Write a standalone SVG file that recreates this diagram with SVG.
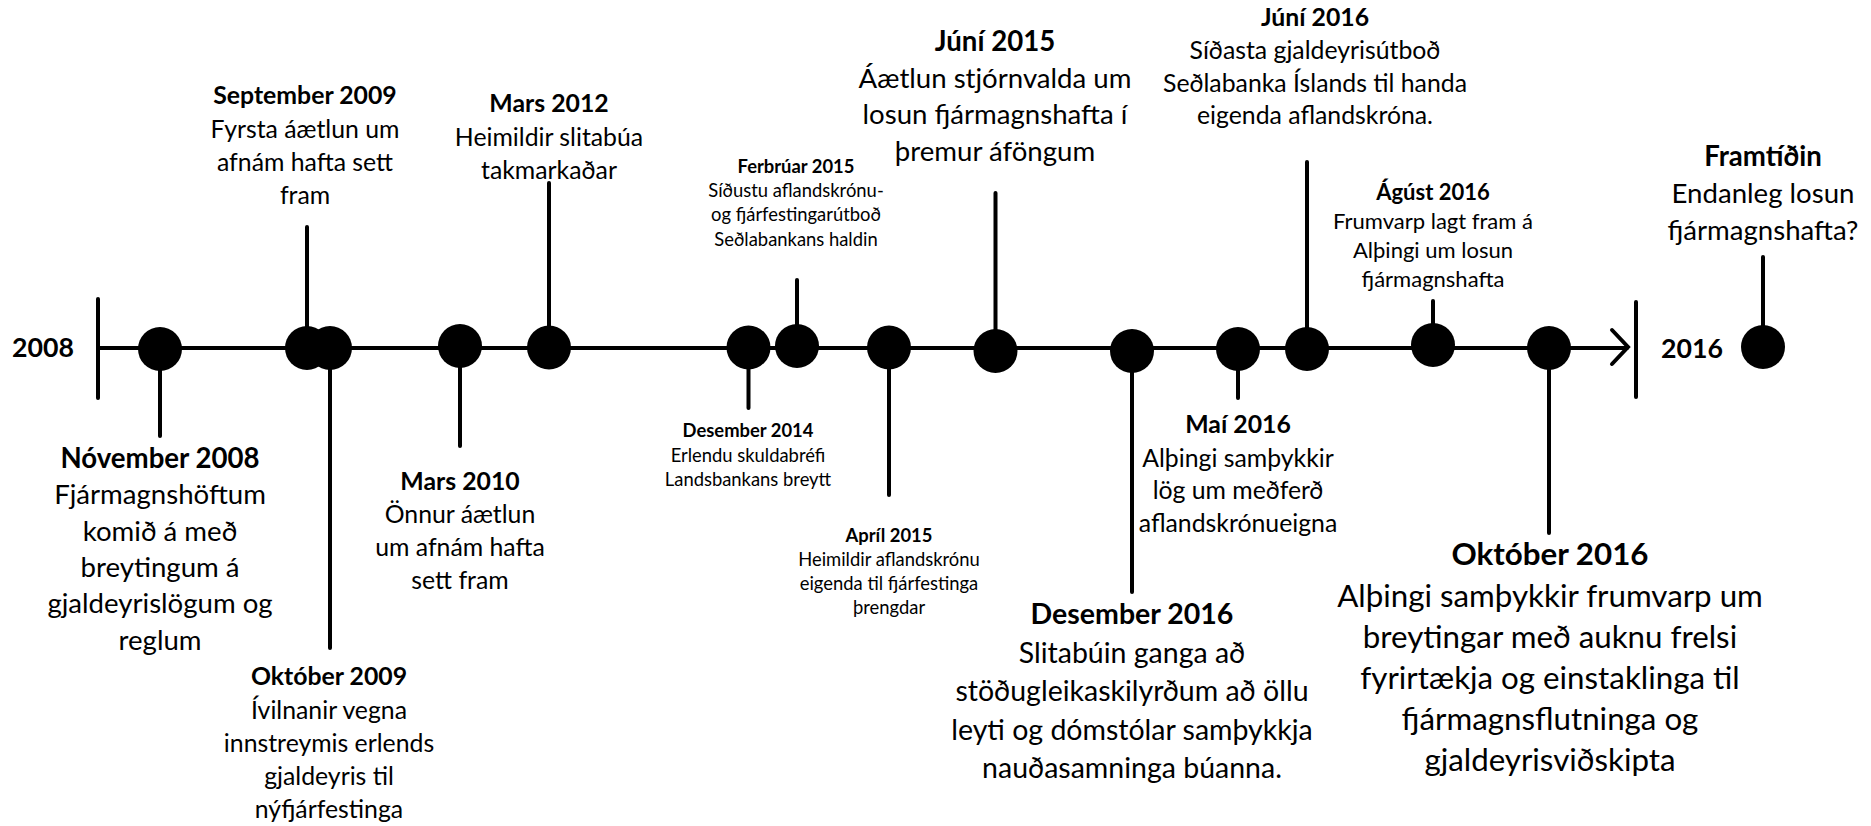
<svg xmlns="http://www.w3.org/2000/svg" width="1871" height="826" viewBox="0 0 1871 826">
<style>
text{font-family:Lato,"Liberation Sans",sans-serif;fill:#000;text-anchor:middle}
.t{font-weight:bold}
.s30{font-size:27.6px}
.s27{font-size:24.8px}
.s20{font-size:18.4px}
.s24{font-size:22px}
.s34{font-size:31.3px}
.s31{font-size:28.5px}
.yr{font-size:26.7px;font-weight:bold;text-anchor:start}
.ln{stroke:#000;stroke-width:4;fill:none;stroke-linecap:round}
.dot{fill:#000}
</style>
<rect width="1871" height="826" fill="#fff"/>
<g id="axis">
<line class="ln" x1="98" y1="348" x2="1627" y2="348"/>
<polyline class="ln" points="1612,330 1628,347 1612,364" stroke-linejoin="miter"/>
<line class="ln" x1="98" y1="299" x2="98" y2="398"/>
<line class="ln" x1="1636" y1="302" x2="1636" y2="397"/>
<text class="yr" x="12" y="357">2008</text>
<text class="yr" x="1661" y="358">2016</text>
</g>
<g id="connectors">
<line class="ln" x1="160" y1="348" x2="160" y2="436"/>
<line class="ln" x1="307" y1="227" x2="307" y2="348"/>
<line class="ln" x1="330" y1="348" x2="330" y2="648"/>
<line class="ln" x1="460" y1="348" x2="460" y2="446"/>
<line class="ln" x1="549" y1="183" x2="549" y2="348"/>
<line class="ln" x1="748.5" y1="348" x2="748.5" y2="408"/>
<line class="ln" x1="797" y1="280" x2="797" y2="348"/>
<line class="ln" x1="889" y1="348" x2="889" y2="495"/>
<line class="ln" x1="995.5" y1="193" x2="995.5" y2="350"/>
<line class="ln" x1="1132" y1="350" x2="1132" y2="592"/>
<line class="ln" x1="1238" y1="348" x2="1238" y2="398"/>
<line class="ln" x1="1307" y1="162" x2="1307" y2="348"/>
<line class="ln" x1="1433" y1="301" x2="1433" y2="345"/>
<line class="ln" x1="1549" y1="348" x2="1549" y2="533"/>
<line class="ln" x1="1763" y1="257" x2="1763" y2="347"/>
</g>
<g id="nov2008">
<circle class="dot" cx="160" cy="349" r="22"/>
<text class="t s30" x="160" y="468">Nóvember 2008</text>
<text class="s30" x="160"><tspan x="160" y="504">Fjármagnshöftum</tspan><tspan x="160" y="541">komið á með</tspan><tspan x="160" y="577">breytingum á</tspan><tspan x="160" y="613">gjaldeyrislögum og</tspan><tspan x="160" y="650">reglum</tspan></text>
</g>
<g id="sep2009">
<circle class="dot" cx="307" cy="348" r="22"/>
<text class="t s27" x="305" y="104">September 2009</text>
<text class="s27"><tspan x="305" y="137.5">Fyrsta áætlun um</tspan><tspan x="305" y="171">afnám hafta sett</tspan><tspan x="305" y="204">fram</tspan></text>
</g>
<g id="okt2009">
<circle class="dot" cx="330" cy="348" r="22"/>
<text class="t s27" x="329" y="685">Október 2009</text>
<text class="s27"><tspan x="329" y="718.5">Ívilnanir vegna</tspan><tspan x="329" y="752">innstreymis erlends</tspan><tspan x="329" y="785">gjaldeyris til</tspan><tspan x="329" y="818">nýfjárfestinga</tspan></text>
</g>
<g id="mar2010">
<circle class="dot" cx="460" cy="346" r="22"/>
<text class="t s27" x="460" y="490">Mars 2010</text>
<text class="s27"><tspan x="460" y="523">Önnur áætlun</tspan><tspan x="460" y="556">um afnám hafta</tspan><tspan x="460" y="589">sett fram</tspan></text>
</g>
<g id="mar2012">
<circle class="dot" cx="549" cy="347.5" r="22"/>
<text class="t s27" x="549" y="112">Mars 2012</text>
<text class="s27"><tspan x="549" y="145.5">Heimildir slitabúa</tspan><tspan x="549" y="179">takmarkaðar</tspan></text>
</g>
<g id="des2014">
<circle class="dot" cx="748.5" cy="347.5" r="22"/>
<text class="t s20" x="748" y="437">Desember 2014</text>
<text class="s20"><tspan x="748" y="462">Erlendu skuldabréfi</tspan><tspan x="748" y="486">Landsbankans breytt</tspan></text>
</g>
<g id="feb2015">
<circle class="dot" cx="797" cy="346" r="22"/>
<text class="t s20" x="796" y="173">Ferbrúar 2015</text>
<text class="s20"><tspan x="796" y="197">Síðustu aflandskrónu-</tspan><tspan x="796" y="221">og fjárfestingarútboð</tspan><tspan x="796" y="246">Seðlabankans haldin</tspan></text>
</g>
<g id="apr2015">
<circle class="dot" cx="889" cy="347.5" r="22"/>
<text class="t s20" x="889" y="542">Apríl 2015</text>
<text class="s20"><tspan x="889" y="566">Heimildir aflandskrónu</tspan><tspan x="889" y="590">eigenda til fjárfestinga</tspan><tspan x="889" y="614">þrengdar</tspan></text>
</g>
<g id="jun2015">
<circle class="dot" cx="995.5" cy="351" r="22"/>
<text class="t s30" x="995" y="51">Júní 2015</text>
<text class="s30"><tspan x="995" y="87.5">Áætlun stjórnvalda um</tspan><tspan x="995" y="124">losun fjármagnshafta í</tspan><tspan x="995" y="160.5">þremur áföngum</tspan></text>
</g>
<g id="des2016">
<circle class="dot" cx="1132" cy="351" r="22"/>
<text class="t s31" x="1132" y="624">Desember 2016</text>
<text class="s31"><tspan x="1132" y="663">Slitabúin ganga að</tspan><tspan x="1132" y="701">stöðugleikaskilyrðum að öllu</tspan><tspan x="1132" y="740">leyti og dómstólar samþykkja</tspan><tspan x="1132" y="778">nauðasamninga búanna.</tspan></text>
</g>
<g id="mai2016">
<circle class="dot" cx="1238" cy="349" r="22"/>
<text class="t s27" x="1238" y="433">Maí 2016</text>
<text class="s27"><tspan x="1238" y="467">Alþingi samþykkir</tspan><tspan x="1238" y="499">lög um meðferð</tspan><tspan x="1238" y="532">aflandskrónueigna</tspan></text>
</g>
<g id="jun2016">
<circle class="dot" cx="1307" cy="349" r="22"/>
<text class="t s27" x="1315" y="26">Júní 2016</text>
<text class="s27"><tspan x="1315" y="59">Síðasta gjaldeyrisútboð</tspan><tspan x="1315" y="92">Seðlabanka Íslands til handa</tspan><tspan x="1315" y="124">eigenda aflandskróna.</tspan></text>
</g>
<g id="agu2016">
<circle class="dot" cx="1433" cy="345" r="22"/>
<text class="t s24" x="1433" y="200">Ágúst 2016</text>
<text class="s24"><tspan x="1433" y="229">Frumvarp lagt fram á</tspan><tspan x="1433" y="258">Alþingi um losun</tspan><tspan x="1433" y="287">fjármagnshafta</tspan></text>
</g>
<g id="okt2016">
<circle class="dot" cx="1549" cy="348" r="22"/>
<text class="t s34" x="1550" y="565">Október 2016</text>
<text class="s34"><tspan x="1550" y="607">Alþingi samþykkir frumvarp um</tspan><tspan x="1550" y="648">breytingar með auknu frelsi</tspan><tspan x="1550" y="689">fyrirtækja og einstaklinga til</tspan><tspan x="1550" y="730">fjármagnsflutninga og</tspan><tspan x="1550" y="771">gjaldeyrisviðskipta</tspan></text>
</g>
<g id="framtidin">
<circle class="dot" cx="1763" cy="347" r="22"/>
<text class="t s30" x="1763" y="166">Framtíðin</text>
<text class="s30"><tspan x="1763" y="203">Endanleg losun</tspan><tspan x="1763" y="240">fjármagnshafta?</tspan></text>
</g>
</svg>
